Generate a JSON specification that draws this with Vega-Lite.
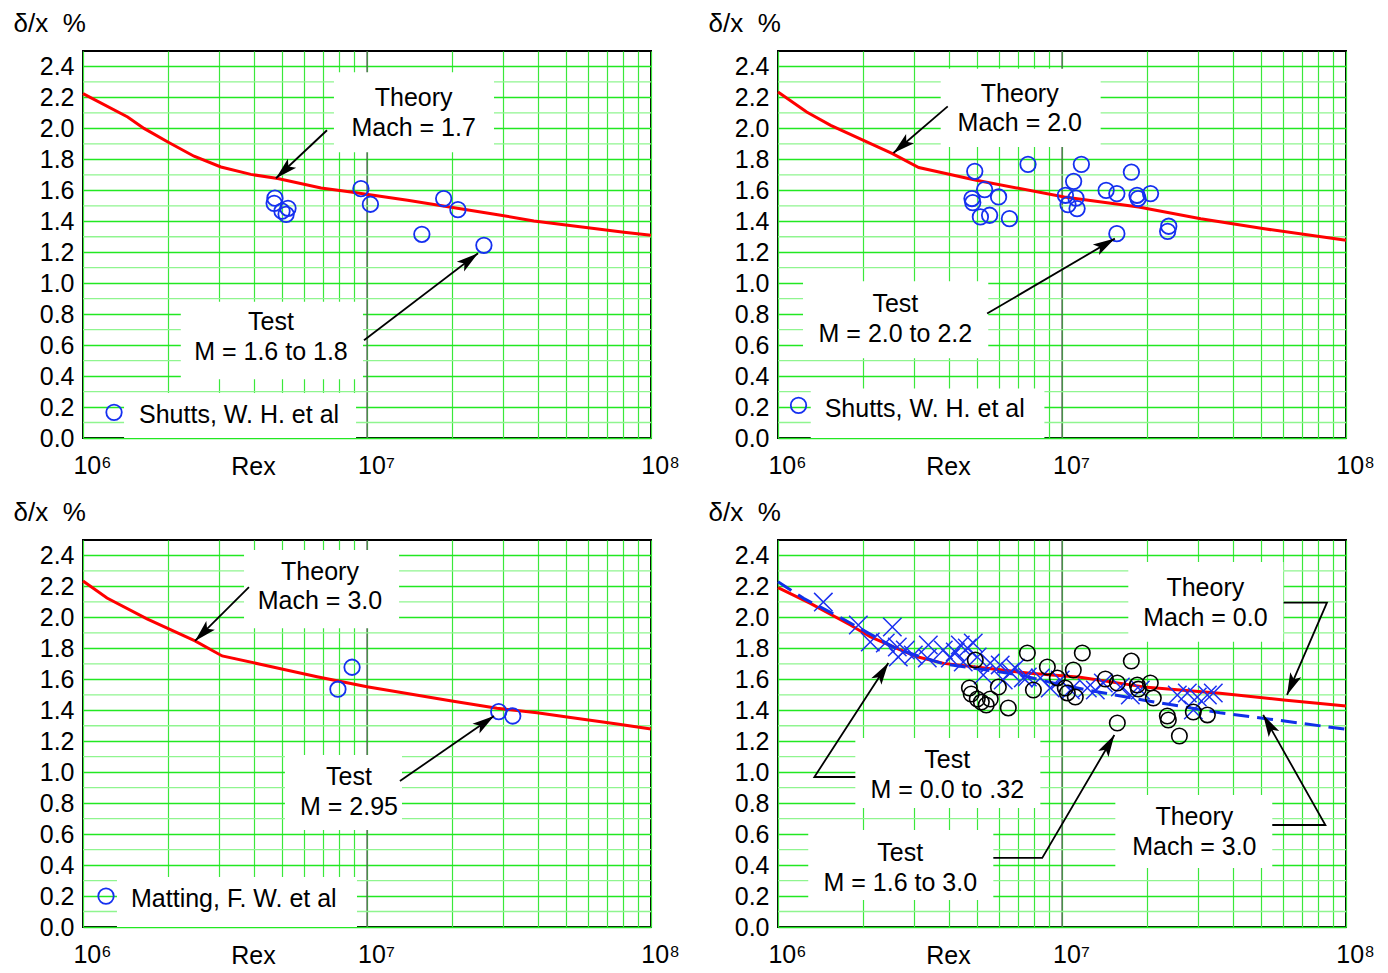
{
"$schema": "https://vega.github.io/schema/vega-lite/v6.json",
"background": "white",
"padding": {"left": 12, "top": 9, "right": 5, "bottom": 0},
"config": {"font": "Liberation Sans", "view": {"stroke": "#000000", "strokeWidth": 2}, "axis": {"labelOverlap": false}},
"data": {"values": [
{"p":"a","t":"g","y":0.1},{"p":"a","t":"g","y":0.3},{"p":"a","t":"g","y":0.5},{"p":"a","t":"g","y":0.7},{"p":"a","t":"g","y":0.9},{"p":"a","t":"g","y":1.1},{"p":"a","t":"g","y":1.3},{"p":"a","t":"g","y":1.5},{"p":"a","t":"g","y":1.7},{"p":"a","t":"g","y":1.9},{"p":"a","t":"g","y":2.1},{"p":"a","t":"g","y":2.3},
{"p":"b","t":"g","y":0.1},{"p":"b","t":"g","y":0.3},{"p":"b","t":"g","y":0.5},{"p":"b","t":"g","y":0.7},{"p":"b","t":"g","y":0.9},{"p":"b","t":"g","y":1.1},{"p":"b","t":"g","y":1.3},{"p":"b","t":"g","y":1.5},{"p":"b","t":"g","y":1.7},{"p":"b","t":"g","y":1.9},{"p":"b","t":"g","y":2.1},{"p":"b","t":"g","y":2.3},
{"p":"c","t":"g","y":0.1},{"p":"c","t":"g","y":0.3},{"p":"c","t":"g","y":0.5},{"p":"c","t":"g","y":0.7},{"p":"c","t":"g","y":0.9},{"p":"c","t":"g","y":1.1},{"p":"c","t":"g","y":1.3},{"p":"c","t":"g","y":1.5},{"p":"c","t":"g","y":1.7},{"p":"c","t":"g","y":1.9},{"p":"c","t":"g","y":2.1},{"p":"c","t":"g","y":2.3},
{"p":"d","t":"g","y":0.1},{"p":"d","t":"g","y":0.3},{"p":"d","t":"g","y":0.5},{"p":"d","t":"g","y":0.7},{"p":"d","t":"g","y":0.9},{"p":"d","t":"g","y":1.1},{"p":"d","t":"g","y":1.3},{"p":"d","t":"g","y":1.5},{"p":"d","t":"g","y":1.7},{"p":"d","t":"g","y":1.9},{"p":"d","t":"g","y":2.1},{"p":"d","t":"g","y":2.3},
{"p":"a","t":"v","x":1e7,"y":0,"y2":2.5},
{"p":"a","t":"b","x":7.65e6,"x2":2.8e7,"y":1.846,"y2":2.363},
{"p":"a","t":"b","x":2.21e6,"x2":9.68e6,"y":0.38,"y2":0.88},
{"p":"a","t":"b","x":1.395e6,"x2":9.15e6,"y":0,"y2":0.29},
{"p":"a","t":"l","x":1.46e7,"y":2.194,"txt":"Theory"},
{"p":"a","t":"l","x":1.46e7,"y":2.0,"txt":"Mach = 1.7"},
{"p":"a","t":"l","x":4.59e6,"y":0.748,"txt":"Test"},
{"p":"a","t":"l","x":4.59e6,"y":0.554,"txt":"M = 1.6 to 1.8"},
{"p":"a","t":"lc","x":1.286e6,"y":0.166},
{"p":"a","t":"lt","x":1.575e6,"y":0.15,"txt":"Shutts, W. H. et al"},
{"p":"a","t":"a","id":"a1","o":0,"x":7.23e6,"y":1.988},
{"p":"a","t":"a","id":"a1","o":1,"x":4.78e6,"y":1.678},
{"p":"a","t":"a","id":"a2","o":0,"x":9.76e6,"y":0.632},
{"p":"a","t":"a","id":"a2","o":1,"x":2.46e7,"y":1.193},
{"p":"a","t":"h","x":4.78e6,"y":1.678,"dir":227},
{"p":"a","t":"h","x":2.46e7,"y":1.193,"dir":53},
{"p":"a","t":"r","x":1e6,"y":2.225},{"p":"a","t":"r","x":1.436e6,"y":2.074},{"p":"a","t":"r","x":1.64e6,"y":2.0},{"p":"a","t":"r","x":1.99e6,"y":1.912},{"p":"a","t":"r","x":2.46e6,"y":1.82},{"p":"a","t":"r","x":3.06e6,"y":1.751},{"p":"a","t":"r","x":3.9e6,"y":1.703},{"p":"a","t":"r","x":4.85e6,"y":1.676},{"p":"a","t":"r","x":6.89e6,"y":1.615},{"p":"a","t":"r","x":8.78e6,"y":1.589},{"p":"a","t":"r","x":1.39e7,"y":1.536},{"p":"a","t":"r","x":2.96e7,"y":1.439},{"p":"a","t":"r","x":3.87e7,"y":1.402},{"p":"a","t":"r","x":6.3e7,"y":1.353},{"p":"a","t":"r","x":8.03e7,"y":1.329},{"p":"a","t":"r","x":1e8,"y":1.31},
{"p":"a","t":"c","x":4.74e6,"y":1.549},{"p":"a","t":"c","x":4.71e6,"y":1.516},{"p":"a","t":"c","x":5.02e6,"y":1.465},{"p":"a","t":"c","x":5.27e6,"y":1.484},{"p":"a","t":"c","x":5.19e6,"y":1.445},{"p":"a","t":"c","x":9.52e6,"y":1.611},{"p":"a","t":"c","x":1.028e7,"y":1.51},{"p":"a","t":"c","x":1.862e7,"y":1.547},{"p":"a","t":"c","x":2.09e7,"y":1.475},{"p":"a","t":"c","x":1.56e7,"y":1.316},{"p":"a","t":"c","x":2.58e7,"y":1.245},

{"p":"b","t":"v","x":1e7,"y":0,"y2":2.5},
{"p":"b","t":"b","x":3.74e6,"x2":1.368e7,"y":1.88,"y2":2.386},
{"p":"b","t":"b","x":1.225e6,"x2":5.5e6,"y":0.515,"y2":1.012},
{"p":"b","t":"b","x":1.304e6,"x2":8.67e6,"y":0,"y2":0.319},
{"p":"b","t":"l","x":7.1e6,"y":2.22,"txt":"Theory"},
{"p":"b","t":"l","x":7.1e6,"y":2.033,"txt":"Mach = 2.0"},
{"p":"b","t":"l","x":2.59e6,"y":0.864,"txt":"Test"},
{"p":"b","t":"l","x":2.59e6,"y":0.67,"txt":"M = 2.0 to 2.2"},
{"p":"b","t":"lc","x":1.181e6,"y":0.211},
{"p":"b","t":"lt","x":1.46e6,"y":0.19,"txt":"Shutts, W. H. et al"},
{"p":"b","t":"a","id":"b1","o":0,"x":3.96e6,"y":2.142},
{"p":"b","t":"a","id":"b1","o":1,"x":2.55e6,"y":1.841},
{"p":"b","t":"a","id":"b2","o":0,"x":5.45e6,"y":0.804},
{"p":"b","t":"a","id":"b2","o":1,"x":1.535e7,"y":1.288},
{"p":"b","t":"h","x":2.55e6,"y":1.841,"dir":229},
{"p":"b","t":"h","x":1.535e7,"y":1.288,"dir":59.5},
{"p":"b","t":"r","x":1e6,"y":2.235},{"p":"b","t":"r","x":1.262e6,"y":2.106},{"p":"b","t":"r","x":1.533e6,"y":2.02},{"p":"b","t":"r","x":2.53e6,"y":1.837},{"p":"b","t":"r","x":3.13e6,"y":1.747},{"p":"b","t":"r","x":4.99e6,"y":1.665},{"p":"b","t":"r","x":1.019e7,"y":1.557},{"p":"b","t":"r","x":1.862e7,"y":1.492},{"p":"b","t":"r","x":3.08e7,"y":1.417},{"p":"b","t":"r","x":5.09e7,"y":1.353},{"p":"b","t":"r","x":1e8,"y":1.277},
{"p":"b","t":"c","x":4.93e6,"y":1.723},{"p":"b","t":"c","x":7.59e6,"y":1.768},{"p":"b","t":"c","x":1.17e7,"y":1.768},{"p":"b","t":"c","x":1.099e7,"y":1.658},{"p":"b","t":"c","x":1.755e7,"y":1.718},{"p":"b","t":"c","x":5.34e6,"y":1.605},{"p":"b","t":"c","x":5.98e6,"y":1.557},{"p":"b","t":"c","x":4.82e6,"y":1.547},{"p":"b","t":"c","x":4.85e6,"y":1.521},{"p":"b","t":"c","x":5.16e6,"y":1.428},{"p":"b","t":"c","x":5.56e6,"y":1.439},{"p":"b","t":"c","x":6.53e6,"y":1.417},{"p":"b","t":"c","x":1.028e7,"y":1.568},{"p":"b","t":"c","x":1.05e7,"y":1.508},{"p":"b","t":"c","x":1.12e7,"y":1.55},{"p":"b","t":"c","x":1.13e7,"y":1.482},{"p":"b","t":"c","x":1.43e7,"y":1.6},{"p":"b","t":"c","x":1.56e7,"y":1.579},{"p":"b","t":"c","x":1.837e7,"y":1.568},{"p":"b","t":"c","x":1.853e7,"y":1.547},{"p":"b","t":"c","x":2.05e7,"y":1.579},{"p":"b","t":"c","x":1.56e7,"y":1.32},{"p":"b","t":"c","x":2.376e7,"y":1.368},{"p":"b","t":"c","x":2.355e7,"y":1.335},

{"p":"c","t":"v","x":1e7,"y":0,"y2":2.5},
{"p":"c","t":"b","x":3.69e6,"x2":1.297e7,"y":1.93,"y2":2.435},
{"p":"c","t":"b","x":5.14e6,"x2":1.328e7,"y":0.627,"y2":1.111},
{"p":"c","t":"b","x":1.317e6,"x2":9.22e6,"y":0,"y2":0.323},
{"p":"c","t":"l","x":6.83e6,"y":2.293,"txt":"Theory"},
{"p":"c","t":"l","x":6.83e6,"y":2.106,"txt":"Mach = 3.0"},
{"p":"c","t":"l","x":8.64e6,"y":0.969,"txt":"Test"},
{"p":"c","t":"l","x":8.64e6,"y":0.775,"txt":"M = 2.95"},
{"p":"c","t":"lc","x":1.205e6,"y":0.2},
{"p":"c","t":"lt","x":1.476e6,"y":0.181,"txt":"Matting, F. W. et al"},
{"p":"c","t":"a","id":"c1","o":0,"x":3.84e6,"y":2.196},
{"p":"c","t":"a","id":"c1","o":1,"x":2.48e6,"y":1.848},
{"p":"c","t":"a","id":"c2","o":0,"x":1.306e7,"y":0.943},
{"p":"c","t":"a","id":"c2","o":1,"x":2.8e7,"y":1.363},
{"p":"c","t":"h","x":2.48e6,"y":1.848,"dir":225},
{"p":"c","t":"h","x":2.8e7,"y":1.363,"dir":55},
{"p":"c","t":"r","x":1e6,"y":2.235},{"p":"c","t":"r","x":1.215e6,"y":2.125},{"p":"c","t":"r","x":1.68e6,"y":1.99},{"p":"c","t":"r","x":2.48e6,"y":1.848},{"p":"c","t":"r","x":3.09e6,"y":1.751},{"p":"c","t":"r","x":4.17e6,"y":1.699},{"p":"c","t":"r","x":6.67e6,"y":1.617},{"p":"c","t":"r","x":1e7,"y":1.552},{"p":"c","t":"r","x":1.965e7,"y":1.462},{"p":"c","t":"r","x":2.87e7,"y":1.413},{"p":"c","t":"r","x":3.97e7,"y":1.384},{"p":"c","t":"r","x":5.06e7,"y":1.357},{"p":"c","t":"r","x":7.6e7,"y":1.312},{"p":"c","t":"r","x":1e8,"y":1.279},
{"p":"c","t":"c","x":8.86e6,"y":1.678},{"p":"c","t":"c","x":7.9e6,"y":1.536},{"p":"c","t":"c","x":2.91e7,"y":1.391},{"p":"c","t":"c","x":3.26e7,"y":1.363},

{"p":"d","t":"v","x":1e7,"y":0,"y2":2.5},
{"p":"d","t":"b","x":1.712e7,"x2":6.02e7,"y":1.843,"y2":2.358},
{"p":"d","t":"b","x":1.872e6,"x2":8.39e6,"y":0.769,"y2":1.221},
{"p":"d","t":"b","x":1.278e6,"x2":5.73e6,"y":0.174,"y2":0.627},
{"p":"d","t":"b","x":1.541e7,"x2":5.5e7,"y":0.381,"y2":0.853},
{"p":"d","t":"l","x":3.197e7,"y":2.19,"txt":"Theory"},
{"p":"d","t":"l","x":3.197e7,"y":1.996,"txt":"Mach = 0.0"},
{"p":"d","t":"l","x":3.945e6,"y":1.079,"txt":"Test"},
{"p":"d","t":"l","x":3.945e6,"y":0.885,"txt":"M = 0.0 to .32"},
{"p":"d","t":"l","x":2.695e6,"y":0.478,"txt":"Test"},
{"p":"d","t":"l","x":2.695e6,"y":0.284,"txt":"M = 1.6 to 3.0"},
{"p":"d","t":"l","x":2.924e7,"y":0.711,"txt":"Theory"},
{"p":"d","t":"l","x":2.924e7,"y":0.517,"txt":"Mach = 3.0"},
{"p":"d","t":"a","id":"d1","o":0,"x":6.03e7,"y":2.095},
{"p":"d","t":"a","id":"d1","o":1,"x":8.57e7,"y":2.095},
{"p":"d","t":"a","id":"d1","o":2,"x":6.2e7,"y":1.499},
{"p":"d","t":"a","id":"d2","o":0,"x":1.872e6,"y":0.969},
{"p":"d","t":"a","id":"d2","o":1,"x":1.343e6,"y":0.969},
{"p":"d","t":"a","id":"d2","o":2,"x":2.446e6,"y":1.705},
{"p":"d","t":"a","id":"d3","o":0,"x":5.73e6,"y":0.446},
{"p":"d","t":"a","id":"d3","o":1,"x":8.52e6,"y":0.446},
{"p":"d","t":"a","id":"d3","o":2,"x":1.529e7,"y":1.24},
{"p":"d","t":"a","id":"d4","o":0,"x":5.5e7,"y":0.659},
{"p":"d","t":"a","id":"d4","o":1,"x":8.46e7,"y":0.659},
{"p":"d","t":"a","id":"d4","o":2,"x":5.11e7,"y":1.37},
{"p":"d","t":"h","x":6.2e7,"y":1.499,"dir":203.4},
{"p":"d","t":"h","x":2.446e6,"y":1.705,"dir":33},
{"p":"d","t":"h","x":1.529e7,"y":1.24,"dir":30.3},
{"p":"d","t":"h","x":5.11e7,"y":1.37,"dir":330.6},
{"p":"d","t":"r","x":1e6,"y":2.192},{"p":"d","t":"r","x":1.3e6,"y":2.091},{"p":"d","t":"r","x":1.798e6,"y":1.951},{"p":"d","t":"r","x":2.11e6,"y":1.875},{"p":"d","t":"r","x":2.62e6,"y":1.8},{"p":"d","t":"r","x":3.09e6,"y":1.746},{"p":"d","t":"r","x":3.83e6,"y":1.703},{"p":"d","t":"r","x":5.44e6,"y":1.671},{"p":"d","t":"r","x":7.73e6,"y":1.639},{"p":"d","t":"r","x":1.159e7,"y":1.613},{"p":"d","t":"r","x":1.99e7,"y":1.548},{"p":"d","t":"r","x":3.6e7,"y":1.51},{"p":"d","t":"r","x":6.03e7,"y":1.466},{"p":"d","t":"r","x":1e8,"y":1.428},
{"p":"d","t":"d","x":1e6,"y":2.231},{"p":"d","t":"d","x":1.23e6,"y":2.123},{"p":"d","t":"d","x":1.613e6,"y":2.011},{"p":"d","t":"d","x":2.11e6,"y":1.893},{"p":"d","t":"d","x":2.62e6,"y":1.796},{"p":"d","t":"d","x":3.83e6,"y":1.699},{"p":"d","t":"d","x":5.44e6,"y":1.66},{"p":"d","t":"d","x":7.13e6,"y":1.628},{"p":"d","t":"d","x":9.31e6,"y":1.576},{"p":"d","t":"d","x":1.225e7,"y":1.531},{"p":"d","t":"d","x":1.99e7,"y":1.462},{"p":"d","t":"d","x":3.6e7,"y":1.384},{"p":"d","t":"d","x":6.72e7,"y":1.32},{"p":"d","t":"d","x":1e8,"y":1.277},
{"p":"d","t":"x","x":1.444e6,"y":2.099},{"p":"d","t":"x","x":1.918e6,"y":1.951},{"p":"d","t":"x","x":2.113e6,"y":1.841},{"p":"d","t":"x","x":2.527e6,"y":1.938},{"p":"d","t":"x","x":2.387e6,"y":1.835},{"p":"d","t":"x","x":2.631e6,"y":1.809},{"p":"d","t":"x","x":2.652e6,"y":1.744},{"p":"d","t":"x","x":2.995e6,"y":1.757},{"p":"d","t":"x","x":3.383e6,"y":1.822},{"p":"d","t":"x","x":3.355e6,"y":1.738},{"p":"d","t":"x","x":3.82e6,"y":1.789},{"p":"d","t":"x","x":4.045e6,"y":1.738},{"p":"d","t":"x","x":4.385e6,"y":1.822},{"p":"d","t":"x","x":4.64e6,"y":1.802},{"p":"d","t":"x","x":4.87e6,"y":1.835},{"p":"d","t":"x","x":4.49e6,"y":1.712},{"p":"d","t":"x","x":5.03e6,"y":1.744},{"p":"d","t":"x","x":5.59e6,"y":1.705},{"p":"d","t":"x","x":6.06e6,"y":1.693},{"p":"d","t":"x","x":6.58e6,"y":1.647},{"p":"d","t":"x","x":7.31e6,"y":1.609},{"p":"d","t":"x","x":5.28e6,"y":1.628},{"p":"d","t":"x","x":6.21e6,"y":1.596},{"p":"d","t":"x","x":7.55e6,"y":1.615},{"p":"d","t":"x","x":8.39e6,"y":1.609},{"p":"d","t":"x","x":9.09e6,"y":1.544},{"p":"d","t":"x","x":9.86e6,"y":1.596},{"p":"d","t":"x","x":1.07e7,"y":1.531},{"p":"d","t":"x","x":1.228e7,"y":1.544},{"p":"d","t":"x","x":1.398e7,"y":1.576},{"p":"d","t":"x","x":1.605e7,"y":1.55},{"p":"d","t":"x","x":1.74e7,"y":1.499},{"p":"d","t":"x","x":2.547e7,"y":1.499},{"p":"d","t":"x","x":2.762e7,"y":1.512},{"p":"d","t":"x","x":2.995e7,"y":1.486},{"p":"d","t":"x","x":3.25e7,"y":1.499},{"p":"d","t":"x","x":3.41e7,"y":1.512},{"p":"d","t":"x","x":2.9e7,"y":1.402},{"p":"d","t":"x","x":2.806e6,"y":1.789},{"p":"d","t":"x","x":4.21e6,"y":1.777},{"p":"d","t":"x","x":6.85e6,"y":1.673},{"p":"d","t":"x","x":1.31e7,"y":1.531},{"p":"d","t":"x","x":1.887e7,"y":1.531},
{"p":"d","t":"k","x":4.95e6,"y":1.725},{"p":"d","t":"k","x":4.72e6,"y":1.544},{"p":"d","t":"k","x":4.79e6,"y":1.505},{"p":"d","t":"k","x":5.03e6,"y":1.473},{"p":"d","t":"k","x":5.2e6,"y":1.453},{"p":"d","t":"k","x":5.41e6,"y":1.434},{"p":"d","t":"k","x":5.59e6,"y":1.473},{"p":"d","t":"k","x":5.97e6,"y":1.55},{"p":"d","t":"k","x":6.47e6,"y":1.415},{"p":"d","t":"k","x":7.55e6,"y":1.77},{"p":"d","t":"k","x":8.88e6,"y":1.68},{"p":"d","t":"k","x":9.63e6,"y":1.609},{"p":"d","t":"k","x":1.096e7,"y":1.66},{"p":"d","t":"k","x":1.179e7,"y":1.77},{"p":"d","t":"k","x":7.93e6,"y":1.531},{"p":"d","t":"k","x":1.027e7,"y":1.544},{"p":"d","t":"k","x":1.044e7,"y":1.512},{"p":"d","t":"k","x":1.114e7,"y":1.486},{"p":"d","t":"k","x":1.421e7,"y":1.602},{"p":"d","t":"k","x":1.566e7,"y":1.576},{"p":"d","t":"k","x":1.754e7,"y":1.718},{"p":"d","t":"k","x":1.841e7,"y":1.563},{"p":"d","t":"k","x":1.857e7,"y":1.537},{"p":"d","t":"k","x":2.046e7,"y":1.576},{"p":"d","t":"k","x":2.097e7,"y":1.479},{"p":"d","t":"k","x":1.566e7,"y":1.318},{"p":"d","t":"k","x":2.349e7,"y":1.363},{"p":"d","t":"k","x":2.368e7,"y":1.337},{"p":"d","t":"k","x":2.9e7,"y":1.389},{"p":"d","t":"k","x":3.25e7,"y":1.37},{"p":"d","t":"k","x":2.59e7,"y":1.234}
]},
"facet": {"field": "p", "type": "nominal", "title": null, "header": {"labels": false, "title": null, "labelFontSize": 0, "labelPadding": 0}},
"columns": 2,
"spacing": {"row": 102, "column": 127},
"bounds": "flush",
"resolve": {"axis": {"x": "independent", "y": "independent"}},
"spec": {
"width": 568,
"height": 387,
"layer": [
{"transform": [{"filter": "datum.t=='v'"}],
 "mark": {"type": "rule", "color": "#555555", "strokeWidth": 1.2},
 "encoding": {
   "x": {"field": "x", "type": "quantitative", "scale": {"type": "log", "domain": [1e6, 1e8]},
   "axis": {"title": "Rex", "values": [1e6,2e6,3e6,4e6,5e6,6e6,7e6,8e6,9e6,1e7,2e7,3e7,4e7,5e7,6e7,7e7,8e7,9e7,1e8],
     "labelExpr": "datum.value==1e6?'10⁶':datum.value==1e7?'10⁷':datum.value==1e8?'10⁸':''",
     "grid": true, "gridColor": "#3be83b", "gridWidth": 1.2, "gridOpacity": 1, "ticks": false, "domain": false,
     "labelFontSize": 25, "labelColor": "#000000", "labelPadding": 15, "labelOffset": 9, "labelOverlap": false, "labelFlush": false,
     "titleFontSize": 25, "titleFontWeight": "normal", "titleColor": "#000000", "titleX": 170, "titleY": 36, "titleBaseline": "alphabetic", "titleAlign": "center"}},
   "y": {"field": "y", "type": "quantitative", "scale": {"domain": [0, 2.5], "nice": false, "zero": true},
     "axis": {"title": "δ/x\u00a0\u00a0%", "values": [0,0.2,0.4,0.6,0.8,1.0,1.2,1.4,1.6,1.8,2.0,2.2,2.4], "format": ".1f", "tickCount": 13,
       "grid": true, "gridColor": "#22e822", "gridWidth": 1.3, "gridOpacity": 1,
       "ticks": false, "domain": false, "labelFontSize": 25, "labelColor": "#000000", "labelPadding": 9, "labelOverlap": false, "labelFlush": false, "labelSeparation": 0,
       "titleFontSize": 26, "titleFontWeight": "normal", "titleColor": "#000000", "titleAngle": 0, "titleX": -70, "titleY": -28, "titleAlign": "left", "titleBaseline": "middle"}},
   "y2": {"field": "y2"}}},
{"transform": [{"filter": "datum.t=='g'"}],
 "mark": {"type": "rule", "color": "#8ff58f", "strokeWidth": 1.3},
 "encoding": {"y": {"field": "y", "type": "quantitative", "scale": {"domain": [0, 2.5], "nice": false, "zero": true}}}},
{"transform": [{"filter": "datum.t=='b'"}],
 "mark": {"type": "rect", "fill": "#ffffff", "stroke": null},
 "encoding": {"x": {"field": "x", "type": "quantitative", "scale": {"type": "log", "domain": [1e6, 1e8]}},
   "x2": {"field": "x2"},
   "y": {"field": "y", "type": "quantitative", "scale": {"domain": [0, 2.5], "nice": false, "zero": true}},
   "y2": {"field": "y2"}}},
{"transform": [{"filter": "datum.t=='r'"}],
 "mark": {"type": "line", "color": "#ff0000", "strokeWidth": 3},
 "encoding": {"x": {"field": "x", "type": "quantitative", "scale": {"type": "log", "domain": [1e6, 1e8]}},
   "y": {"field": "y", "type": "quantitative", "scale": {"domain": [0, 2.5], "nice": false}}}},
{"transform": [{"filter": "datum.t=='d'"}],
 "mark": {"type": "line", "color": "#1030e8", "strokeWidth": 3, "strokeDash": [16, 8]},
 "encoding": {"x": {"field": "x", "type": "quantitative", "scale": {"type": "log", "domain": [1e6, 1e8]}},
   "y": {"field": "y", "type": "quantitative", "scale": {"domain": [0, 2.5], "nice": false}}}},
{"transform": [{"filter": "datum.t=='x'"}],
 "mark": {"type": "point", "shape": "M-1,-1L1,1M-1,1L1,-1", "filled": false, "color": "#1a30f0", "strokeWidth": 1.5, "size": 340, "opacity": 1},
 "encoding": {"x": {"field": "x", "type": "quantitative", "scale": {"type": "log", "domain": [1e6, 1e8]}},
   "y": {"field": "y", "type": "quantitative", "scale": {"domain": [0, 2.5], "nice": false}}}},
{"transform": [{"filter": "datum.t=='k'"}],
 "mark": {"type": "point", "shape": "circle", "filled": false, "color": "#000000", "strokeWidth": 1.6, "size": 240, "opacity": 1},
 "encoding": {"x": {"field": "x", "type": "quantitative", "scale": {"type": "log", "domain": [1e6, 1e8]}},
   "y": {"field": "y", "type": "quantitative", "scale": {"domain": [0, 2.5], "nice": false}}}},
{"transform": [{"filter": "datum.t=='c' || datum.t=='lc'"}],
 "mark": {"type": "point", "shape": "circle", "filled": false, "color": "#1530f0", "strokeWidth": 1.8, "size": 240, "opacity": 1},
 "encoding": {"x": {"field": "x", "type": "quantitative", "scale": {"type": "log", "domain": [1e6, 1e8]}},
   "y": {"field": "y", "type": "quantitative", "scale": {"domain": [0, 2.5], "nice": false}}}},
{"transform": [{"filter": "datum.t=='a'"}],
 "mark": {"type": "line", "color": "#000000", "strokeWidth": 1.8},
 "encoding": {"x": {"field": "x", "type": "quantitative", "scale": {"type": "log", "domain": [1e6, 1e8]}},
   "y": {"field": "y", "type": "quantitative", "scale": {"domain": [0, 2.5], "nice": false}},
   "detail": {"field": "id"}, "order": {"field": "o", "type": "quantitative"}}},
{"transform": [{"filter": "datum.t=='h'"}],
 "mark": {"type": "point", "shape": "M0,0L0.55,2L0,1.55L-0.55,2Z", "filled": true, "color": "#000000", "size": 484, "opacity": 1, "strokeWidth": 0},
 "encoding": {"x": {"field": "x", "type": "quantitative", "scale": {"type": "log", "domain": [1e6, 1e8]}},
   "y": {"field": "y", "type": "quantitative", "scale": {"domain": [0, 2.5], "nice": false}},
   "angle": {"field": "dir", "type": "quantitative", "scale": null}}},
{"transform": [{"filter": "datum.t=='l'"}],
 "mark": {"type": "text", "align": "center", "baseline": "middle", "fontSize": 25, "color": "#000000"},
 "encoding": {"x": {"field": "x", "type": "quantitative", "scale": {"type": "log", "domain": [1e6, 1e8]}},
   "y": {"field": "y", "type": "quantitative", "scale": {"domain": [0, 2.5], "nice": false}},
   "text": {"field": "txt"}}},
{"transform": [{"filter": "datum.t=='lt'"}],
 "mark": {"type": "text", "align": "left", "baseline": "middle", "fontSize": 25, "color": "#000000"},
 "encoding": {"x": {"field": "x", "type": "quantitative", "scale": {"type": "log", "domain": [1e6, 1e8]}},
   "y": {"field": "y", "type": "quantitative", "scale": {"domain": [0, 2.5], "nice": false}},
   "text": {"field": "txt"}}}
]}
}
